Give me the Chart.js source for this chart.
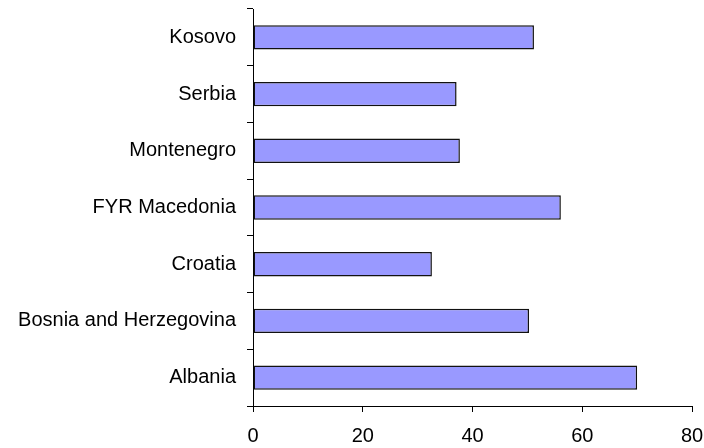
<!DOCTYPE html>
<html>
<head>
<meta charset="utf-8">
<script src="https://cdn.jsdelivr.net/npm/chart.js@4/dist/chart.umd.min.js"></script>
<style>
    html, body { margin: 0; padding: 0; background: #fff; }
    #wrap { width: 704px; height: 448px; }
</style>
</head>
<body>
<div id="wrap"><canvas id="chart" width="704" height="448"></canvas></div>
<script>
// Countries, listed top to bottom
const countries = ['Kosovo', 'Serbia', 'Montenegro', 'FYR Macedonia', 'Croatia', 'Bosnia and Herzegovina', 'Albania'];
const values = [51.2, 37.1, 37.7, 56.1, 32.6, 50.3, 70.0];
const xTicks = [0, 20, 40, 60, 80];

const font = { family: 'Arial, "Liberation Sans", sans-serif', size: 20 };

new Chart(document.getElementById('chart'), {
    type: 'bar',
    data: {
        labels: countries,
        datasets: [{
            data: values,
            backgroundColor: '#9999ff',
            borderColor: '#111111',
            borderWidth: 1.5,
            borderSkipped: false,
            categoryPercentage: 1,
            barPercentage: 0.43
        }]
    },
    options: {
        indexAxis: 'y',
        responsive: false,
        animation: false,
        layout: { padding: { top: 9, right: 0, left: 0, bottom: 0 } },
        plugins: {
            legend: { display: false },
            tooltip: { enabled: false }
        },
        scales: {
            x: {
                min: xTicks[0],
                max: xTicks[xTicks.length - 1],
                afterBuildTicks: (scale) => { scale.ticks = xTicks.map(v => ({ value: v })); },
                afterFit: (scale) => {
                    scale.height = 42;
                    scale.paddingLeft = 0;
                    scale.paddingRight = 12;
                },
                border: { color: '#000', width: 1 },
                grid: { drawOnChartArea: false, color: '#000', tickLength: 6 },
                ticks: { color: '#000', font: font, padding: 12, maxRotation: 0 }
            },
            y: {
                afterFit: (scale) => {
                    scale.width = 253;
                    scale.paddingTop = 0;
                    scale.paddingBottom = 0;
                },
                border: { color: '#000', width: 1 },
                grid: { drawOnChartArea: false, color: '#000', tickLength: 6, offset: true },
                ticks: { color: '#000', font: font, padding: 11 }
            }
        }
    }
});
</script>
</body>
</html>
